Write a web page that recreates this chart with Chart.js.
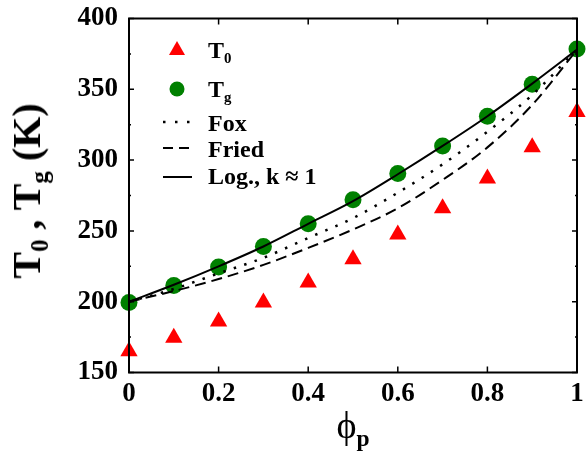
<!DOCTYPE html>
<html>
<head>
<meta charset="utf-8">
<script src="https://cdn.jsdelivr.net/npm/chart.js@4.4.1/dist/chart.umd.min.js"></script>
<style>
  body { margin: 0; background: #fff; }
  #wrap { position: relative; width: 587px; height: 464px; font-family: 'Liberation Serif', 'Times New Roman', serif; font-weight: bold; color: #000; }
  #chartdiv { position: absolute; left: 0; top: 0; }
  .ytitle { position: absolute; left: 27px; top: 191px; transform: translate(-50%, -50%) rotate(-90deg); font-size: 40px; line-height: 1; white-space: nowrap; }
  .xtitle { position: absolute; left: 353px; top: 406px; transform: translateX(-50%); font-size: 38px; line-height: 1; white-space: nowrap; }
  .xtitle .phi { font-weight: normal; }
  sub { font-size: 0.62em; vertical-align: -0.32em; line-height: 0; }
  .leg { position: absolute; left: 208px; font-size: 24px; line-height: 24px; white-space: nowrap; }
  #legsym { position: absolute; left: 155px; top: 35px; }
</style>
</head>
<body>
<div id="wrap">
  <canvas id="chartdiv" width="587" height="464"></canvas>
  <div class="ytitle">T<sub>0</sub> , T<sub>g</sub> (K)</div>
  <div class="xtitle"><span class="phi">ϕ</span><sub>p</sub></div>

  <!-- legend -->
  <svg id="legsym" width="45" height="155">
    <polygon points="22,6 30,20 14,20" fill="#ff0000"/>
    <circle cx="22" cy="54" r="7.5" fill="#008000"/>
    <line x1="8" y1="87" x2="37" y2="87" stroke="#000" stroke-width="2.5" stroke-dasharray="2.5 9.5"/>
    <line x1="8" y1="113" x2="37" y2="113" stroke="#000" stroke-width="2" stroke-dasharray="10 6"/>
    <line x1="8" y1="142" x2="37" y2="142" stroke="#000" stroke-width="2"/>
  </svg>
  <div class="leg" style="top:38px">T<sub>0</sub></div>
  <div class="leg" style="top:77px">T<sub>g</sub></div>
  <div class="leg" style="top:111px">Fox</div>
  <div class="leg" style="top:137px">Fried</div>
  <div class="leg" style="top:164px">Log., k ≈ 1</div>
</div>

<script>
// polymer fraction
const phi = [0, 0.1, 0.2, 0.3, 0.4, 0.5, 0.6, 0.7, 0.8, 0.9, 1];
// measured points
const t0 = [165, 174.5, 186, 199.5, 213.5, 230, 247.5, 266, 287, 309, 334];
const tg = [199.5, 211.5, 224.5, 239, 255, 272, 290.5, 310, 331, 353.5, 378.5];
// model curves
const fox = [200, 209, 220, 231, 245, 259, 277, 297, 320, 346, 378];
const fried = [200, 207.5, 216, 226, 238, 251, 266, 286, 309, 339, 378];
const logk1 = [200, 212, 225, 239, 255, 271, 290, 310, 331, 354, 378];

const xTicks = [0, 0.2, 0.4, 0.6, 0.8, 1];
const xTickLabels = ['0', '0.2', '0.4', '0.6', '0.8', '1'];
const yTicks = [150, 200, 250, 300, 350, 400];
const yMinor = [175, 225, 275, 325, 375];

function pts(ys) {
  return phi.map((p, i) => ({ x: p, y: ys[i] }));
}

const tickFont = { family: "'Liberation Serif', 'Times New Roman', serif", weight: 'bold', size: 27 };

// frame + inward ticks on all four sides
const frameTicks = {
  id: 'frameTicks',
  afterDatasetsDraw(chart) {
    const { ctx, chartArea: a, scales } = chart;
    const x = scales.x, y = scales.y;
    ctx.save();
    ctx.strokeStyle = '#000';
    ctx.lineWidth = 2;
    ctx.strokeRect(a.left, a.top, a.right - a.left, a.bottom - a.top);
    ctx.lineWidth = 1.5;
    ctx.beginPath();
    xTicks.forEach(v => {
      const px = x.getPixelForValue(v);
      ctx.moveTo(px, a.bottom); ctx.lineTo(px, a.bottom - 6);
      ctx.moveTo(px, a.top); ctx.lineTo(px, a.top + 6);
    });
    yTicks.forEach(v => {
      const py = y.getPixelForValue(v);
      ctx.moveTo(a.left, py); ctx.lineTo(a.left + 5, py);
      ctx.moveTo(a.right, py); ctx.lineTo(a.right - 5, py);
    });
    yMinor.forEach(v => {
      const py = y.getPixelForValue(v);
      ctx.moveTo(a.left, py); ctx.lineTo(a.left + 2, py);
      ctx.moveTo(a.right, py); ctx.lineTo(a.right - 2, py);
    });
    ctx.stroke();
    ctx.restore();
  }
};

const lineBase = { type: 'line', pointRadius: 0, borderColor: '#000', borderWidth: 2, fill: false, cubicInterpolationMode: 'monotone', clip: false, order: 0 };

new Chart(document.getElementById('chartdiv'), {
  type: 'line',
  data: {
    datasets: [
      Object.assign({}, lineBase, { label: 'Log., k ≈ 1', data: pts(logk1) }),
      Object.assign({}, lineBase, { label: 'Fox', data: pts(fox), borderDash: [2.5, 8.5], borderWidth: 2.5 }),
      Object.assign({}, lineBase, { label: 'Fried', data: pts(fried), borderDash: [11, 6] }),
      { label: 'T0', data: pts(t0), showLine: false, pointStyle: 'triangle', pointRadius: 10, backgroundColor: '#ff0000', borderColor: '#ff0000', borderWidth: 0, clip: false, order: 1 },
      { label: 'Tg', data: pts(tg), showLine: false, pointStyle: 'circle', pointRadius: 8.5, backgroundColor: '#008000', borderColor: '#008000', borderWidth: 0, clip: false, order: 1 }
    ]
  },
  options: {
    responsive: false,
    animation: false,
    devicePixelRatio: 1,
    events: [],
    layout: { padding: { top: 18.5, right: 10, left: 0, bottom: 0 } },
    plugins: { legend: { display: false }, tooltip: { enabled: false } },
    scales: {
      x: {
        type: 'linear', min: 0, max: 1,
        grid: { display: false, drawTicks: false },
        border: { display: false },
        afterBuildTicks: s => { s.ticks = xTicks.map(v => ({ value: v })); },
        afterFit: s => { s.height = 91.5; s.paddingLeft = 0; s.paddingRight = 0; },
        ticks: { font: tickFont, color: '#000', padding: 5, maxRotation: 0, callback: (v, i) => xTickLabels[i] }
      },
      y: {
        type: 'linear', min: 150, max: 400,
        grid: { display: false, drawTicks: false },
        border: { display: false },
        afterBuildTicks: s => { s.ticks = yTicks.map(v => ({ value: v })); },
        afterFit: s => { s.width = 129; s.paddingTop = 0; s.paddingBottom = 0; },
        ticks: { font: tickFont, color: '#000', padding: 11 }
      }
    }
  },
  plugins: [frameTicks]
});
</script>
</body>
</html>
